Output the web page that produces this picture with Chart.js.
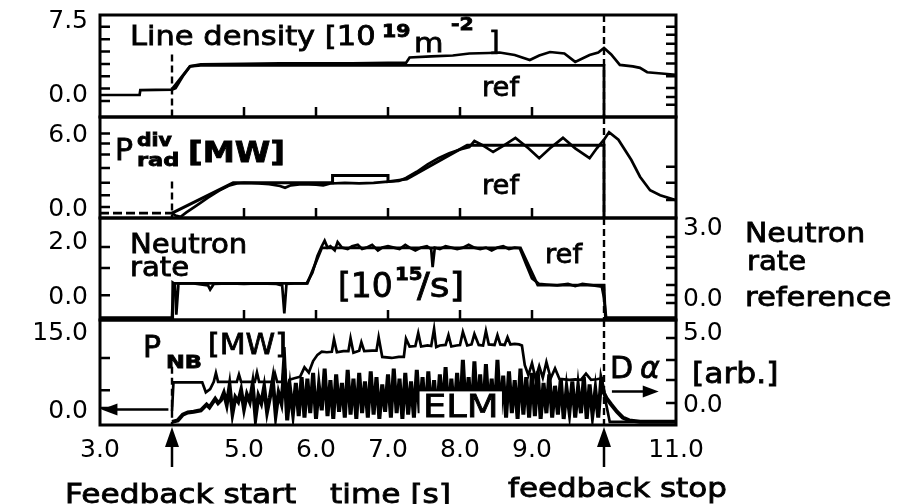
<!DOCTYPE html>
<html>
<head>
<meta charset="utf-8">
<script src="https://cdn.jsdelivr.net/npm/chart.js@4.4.1/dist/chart.umd.min.js"></script>
<style>
  html, body { margin: 0; padding: 0; background: #fff; }
  #wrap { position: relative; width: 913px; height: 504px; overflow: hidden; }
  #wrap canvas { position: absolute; left: 0; top: 0; }
</style>
</head>
<body>
<div id="wrap">
  <canvas id="density" width="913" height="504"></canvas>
  <canvas id="prad" width="913" height="504"></canvas>
  <canvas id="neutron" width="913" height="504"></canvas>
  <canvas id="pnb" width="913" height="504"></canvas>
</div>
<script>
// time axis (s)
const timeTicks = [3, 5, 6, 7, 8, 9, 11];
const panelTimeTicks = [5, 6, 7, 8, 9];

// line density [10^19 m^-2]
const densityTime = [3.00, 3.55, 3.56, 4.00, 4.05, 4.15, 4.25, 4.40, 5.00, 5.50,
  6.00, 6.50, 7.00, 7.25, 7.30, 7.60, 7.90, 8.13, 8.40, 8.55,
  8.76, 8.97, 9.10, 9.25, 9.45, 9.60, 9.80, 9.92, 10.00, 10.10,
  10.22, 10.40, 10.50, 10.60, 11.00];
const densityValue = [0.1, 0.1, 0.6, 0.65, 0.8, 2.0, 3.0, 3.2, 3.25, 3.3,
  3.3, 3.3, 3.35, 3.35, 3.9, 4.0, 4.1, 4.3, 4.35, 4.4,
  4.15, 3.65, 4.1, 4.45, 4.3, 3.45, 4.15, 4.4, 4.86, 4.2,
  3.15, 3.0, 2.85, 2.4, 2.15];
const densityRefTime = [4.00, 4.25, 4.40, 10.00, 10.00];
const densityRefValue = [0.7, 3.0, 3.1, 3.1, -2.1];
const densityTicks = [0, 7.5];
const densityMinorLeft = [7.0, 5.75, 4.5, 3.25, 2.0, 0.75, -0.5];
const densityMinorRight = [7.0, 6.2, 5.3, 4.3, 3.3, 2.0, 0.8, -0.1, -0.9];

// divertor radiated power [MW]
const pradTime = [3.00, 4.00, 4.05, 4.12, 4.20, 4.35, 4.50, 4.65, 4.80, 4.90,
  5.00, 5.20, 5.35, 5.50, 5.57, 5.65, 5.80, 6.00, 6.10, 6.20,
  6.40, 6.60, 6.80, 7.00, 7.15, 7.25, 7.40, 7.55, 7.70, 7.85,
  8.00, 8.13, 8.20, 8.30, 8.46, 8.60, 8.77, 8.95, 9.10, 9.25,
  9.43, 9.60, 9.80, 9.90, 10.00, 10.07, 10.20, 10.38, 10.50, 10.64,
  10.78, 11.00];
const pradValue = [-0.25, -0.25, -0.45, -0.55, -0.2, 0.4, 1.0, 1.55, 2.0, 2.15,
  2.2, 2.15, 2.1, 1.95, 1.8, 2.0, 2.1, 2.05, 2.0, 2.15,
  2.2, 2.15, 2.2, 2.3, 2.35, 2.6, 3.1, 3.7, 4.2, 4.6,
  4.9, 5.1, 5.6, 5.3, 4.7, 5.2, 5.85, 5.0, 4.2, 5.0,
  5.85, 5.0, 4.2, 5.0, 5.7, 6.3, 5.7, 4.05, 2.7, 1.6,
  1.2, 0.8];
const pradRefTime = [4.00, 4.85, 6.23, 6.23, 7.00, 7.00, 7.26, 8.10, 10.00, 10.00];
const pradRefValue = [-0.25, 2.2, 2.2, 2.8, 2.8, 2.3, 2.5, 5.25, 5.25, -0.6];
const pradTicks = [0, 6];
const pradMinorLeft = [6.2, 5.4, 4.5, 3.4, 2.2, 1.2, 0.25];
const pradMinorRight = [3.5, 2.2, 0.8];

// neutron rate [10^15/s] and its reference
const neutronTime = [3.00, 4.00, 4.01, 4.04, 4.06, 4.09, 4.12, 4.30, 4.50, 4.53,
  4.58, 4.80, 5.00, 5.20, 5.45, 5.53, 5.56, 5.59, 5.70, 5.87,
  5.95, 6.02, 6.08, 6.12, 6.16, 6.20, 6.26, 6.30, 6.36, 6.44,
  6.50, 6.58, 6.64, 6.70, 6.78, 6.86, 6.92, 7.00, 7.08, 7.16,
  7.24, 7.30, 7.38, 7.46, 7.54, 7.60, 7.62, 7.65, 7.72, 7.80,
  7.88, 7.96, 8.04, 8.12, 8.20, 8.28, 8.36, 8.44, 8.52, 8.60,
  8.68, 8.76, 8.83, 8.92, 9.00, 9.10, 9.20, 9.35, 9.50, 9.60,
  9.70, 9.85, 9.97, 10.00, 10.03, 10.06, 11.00];
const neutronValue = [-0.71, -0.71, 0.55, 0.5, -0.6, 0.5, 0.52, 0.52, 0.45, 0.3,
  0.5, 0.52, 0.5, 0.52, 0.5, 0.45, -0.55, 0.5, 0.52, 0.52,
  0.9, 1.5, 1.85, 2.05, 1.8, 1.85, 1.7, 2.0, 1.8, 1.75,
  1.85, 1.9, 1.75, 1.8, 1.9, 1.7, 1.8, 1.85, 1.8, 1.75,
  1.9, 1.8, 1.7, 1.8, 1.85, 1.75, 1.1, 1.8, 1.75, 1.85,
  1.8, 1.75, 1.8, 1.9, 1.8, 1.75, 1.8, 1.7, 1.8, 1.85,
  1.75, 1.8, 1.78, 1.2, 0.7, 0.5, 0.48, 0.45, 0.5, 0.42,
  0.5, 0.45, 0.4, 0.0, -0.71, -0.71, -0.71];
const neutronRefTime = [3.00, 4.00, 4.02, 5.88, 6.08, 8.84, 9.08, 10.00, 10.02, 11.00];
const neutronRefValue = [-0.76, -0.76, 0.7, 0.7, 2.2, 2.2, 0.63, 0.63, -0.76, -0.76];
const neutronTicks = [0, 2];
const neutronRefTicks = [0, 3];
const neutronMinorLeft = [1.82, 1.07, 0.1];
const neutronMinorRight = [2.66, 2.24, 1.82, 1.35, 0.63, 0.21, -0.13];

// NB power [MW]
const pnbTime = [4.00, 4.02, 4.42, 4.47, 4.53, 4.58, 4.61, 4.64, 4.90, 4.93,
  4.96, 5.15, 5.18, 5.21, 5.40, 5.43, 5.46, 5.53, 5.56, 5.59,
  5.63, 5.70, 5.78, 5.84, 5.90, 5.96, 6.02, 6.08, 6.15, 6.22,
  6.25, 6.29, 6.38, 6.45, 6.48, 6.52, 6.60, 6.63, 6.67, 6.78,
  6.84, 6.87, 6.92, 7.05, 7.15, 7.22, 7.25, 7.30, 7.38, 7.42,
  7.46, 7.55, 7.60, 7.64, 7.67, 7.72, 7.80, 7.84, 7.88, 7.95,
  8.00, 8.04, 8.10, 8.16, 8.20, 8.26, 8.32, 8.36, 8.40, 8.48,
  8.52, 8.56, 8.62, 8.66, 8.70, 8.76, 8.82, 8.86, 8.90, 8.95,
  9.00, 9.05, 9.10, 9.15, 9.20, 9.26, 9.32, 9.38, 9.45, 9.52,
  9.60, 9.68, 9.75, 9.82, 9.90, 9.97, 10.02, 10.08, 11.00];
const pnbValue = [0.0, 5.5, 5.5, 3.6, 4.2, 5.6, 7.3, 5.6, 5.6, 7.0,
  5.6, 5.6, 7.4, 5.6, 5.6, 7.2, 5.6, 5.6, 12.3, 3.2,
  6.0, 6.3, 6.6, 8.4, 7.4, 9.6, 10.8, 11.4, 11.3, 11.4,
  13.8, 11.3, 11.5, 11.5, 14.0, 11.2, 11.6, 13.2, 11.5, 11.6,
  11.6, 14.2, 10.4, 10.2, 10.4, 10.4, 13.9, 12.4, 12.5, 15.0,
  12.4, 12.6, 12.5, 15.8, 12.3, 12.6, 12.7, 14.6, 12.4, 12.6,
  12.7, 15.2, 12.6, 12.8, 14.8, 12.7, 12.6, 15.4, 12.8, 12.7,
  14.6, 12.8, 12.7, 14.2, 12.8, 12.9, 12.8, 12.6, 8.8, 6.9,
  9.2, 6.2, 8.6, 6.4, 9.4, 6.3, 8.2, 6.2, 6.1, 6.0,
  6.1, 6.0, 7.2, 6.0, 6.1, 6.3, 2.0, -2.1, -2.1];
const pnbTicks = [0, 15];
const pnbMinorLeft = [10.2, 4.0, 0.6];

// D-alpha [arb.]
const dalphaTime = [4.00, 4.08, 4.15, 4.22, 4.30, 4.40, 4.48, 4.52, 4.56, 4.60,
  4.64, 4.68, 4.72, 4.76, 4.80, 4.84, 4.88, 4.92, 4.96, 5.00,
  5.04, 5.08, 5.12, 5.16, 5.20, 5.24, 5.28, 5.32, 5.36, 5.40,
  5.44, 5.48, 5.52, 5.56, 5.60, 5.64, 5.68, 5.72, 5.76, 5.80,
  5.84, 5.88, 5.92, 5.96, 6.00, 6.04, 6.08, 6.12, 6.16, 6.20,
  6.24, 6.28, 6.32, 6.36, 6.40, 6.44, 6.48, 6.52, 6.56, 6.60,
  6.64, 6.68, 6.72, 6.76, 6.80, 6.84, 6.88, 6.92, 6.96, 7.00,
  7.04, 7.08, 7.12, 7.16, 7.20, 7.24, 7.28, 7.32, 7.36, 7.40,
  7.44, 7.48, 7.52, 7.56, 7.60, 7.64, 7.68, 7.72, 7.76, 7.80,
  7.84, 7.88, 7.92, 7.96, 8.00, 8.04, 8.08, 8.12, 8.16, 8.20,
  8.24, 8.28, 8.32, 8.36, 8.40, 8.44, 8.48, 8.52, 8.56, 8.60,
  8.64, 8.68, 8.72, 8.76, 8.80, 8.84, 8.88, 8.92, 8.96, 9.00,
  9.04, 9.08, 9.12, 9.16, 9.20, 9.24, 9.28, 9.32, 9.36, 9.40,
  9.44, 9.48, 9.52, 9.56, 9.60, 9.64, 9.68, 9.72, 9.76, 9.80,
  9.84, 9.88, 9.92, 9.96, 10.00, 10.04, 10.10, 10.18, 10.26, 10.35,
  10.50, 11.00];
const dalphaValue = [-1.1, -1.0, -0.6, -0.45, -0.4, -0.3, 0.1, -0.1, 0.2, 0.5,
  0.2, 0.4, 0.9, 0.1, 1.4, -0.5, 0.6, 0.3, 1.1, -0.2,
  0.8, 0.3, 1.5, -0.8, 0.7, 0.2, 1.3, -0.4, 0.6, 1.8,
  -0.6, 0.9, 0.2, 2.6, -1.0, 1.2, -0.5, 1.6, -0.7, 2.0,
  -0.8, 1.9, -0.5, 2.3, -0.9, 1.4, -0.3, 2.6, -0.7, 1.8,
  -0.9, 2.2, -0.4, 1.6, -0.8, 2.5, -0.6, 1.9, -0.9, 2.3,
  -0.5, 1.7, -0.8, 2.4, -0.6, 2.0, -0.9, 1.5, -0.4, 2.2,
  -0.8, 2.6, -0.5, 1.9, -0.9, 2.3, -0.6, 1.7, -0.8, 2.5,
  -0.5, 2.0, -0.9, 2.4, -0.6, 1.8, -0.8, 2.2, -0.4, 2.7,
  -0.9, 1.9, -0.6, 2.3, -0.8, 3.2, -0.5, 2.0, -0.9, 3.1,
  -0.6, 2.2, -0.8, 2.9, -0.5, 1.9, -0.9, 3.2, -0.6, 2.1,
  -0.8, 2.4, -0.5, 1.8, -0.9, 2.6, -0.6, 2.0, -0.8, 2.3,
  -0.7, 2.4, -0.9, 1.6, -0.5, 2.2, -0.8, 1.4, -0.6, 1.9,
  -0.9, 1.2, -0.4, 1.7, -0.8, 1.3, -0.5, 2.0, -0.9, 1.5,
  -0.6, 1.1, -0.8, 1.8, 0.9, 0.5, 0.1, -0.4, -0.8, -1.0,
  -1.1, -1.1];
const dalphaTicks = [0, 5];
const dalphaMinorRight = [4.72, 3.19, 1.8, 0.2];

Chart.defaults.font.family = "DejaVu Sans";
Chart.defaults.font.size = 25;
Chart.defaults.color = "#000";

function trace(ts, vs, axis, width) {
  return {
    data: ts.map((t, i) => ({ x: t, y: vs[i] })),
    yAxisID: axis,
    borderColor: "#000",
    borderWidth: width,
    pointRadius: 0,
    tension: 0,
    fill: false
  };
}

function yScale(min, max, tickVals, position, width, gap) {
  return {
    type: "linear",
    position: position,
    min: min,
    max: max,
    afterFit: (s) => { s.width = width; },
    afterBuildTicks: (s) => { s.ticks = tickVals.map((v) => ({ value: v })); },
    ticks: { padding: 0, autoSkip: false, callback: (v) => v.toFixed(1) },
    grid: { display: false, drawTicks: true, tickLength: gap },
    border: { display: false }
  };
}

function xScale(show) {
  const s = {
    type: "linear",
    min: 3,
    max: 11,
    display: show,
    afterBuildTicks: (sc) => { sc.ticks = timeTicks.map((v) => ({ value: v })); },
    ticks: { padding: 10, autoSkip: false, maxRotation: 0, callback: (v) => v.toFixed(1) },
    grid: { display: false, drawTicks: false },
    border: { display: false }
  };
  if (show) s.afterFit = (sc) => { sc.height = 79; };
  return s;
}

function drawLabel(ctx, it) {
  ctx.save();
  ctx.font = (it.style || "") + " " + (it.weight || "") + " " + it.size + 'px "DejaVu Sans"';
  ctx.textAlign = "left";
  ctx.textBaseline = "alphabetic";
  ctx.translate(it.x, it.y);
  ctx.scale(it.sx || 1, 1);
  if (it.bg) {
    const w = ctx.measureText(it.text).width;
    ctx.fillStyle = "#fff";
    ctx.fillRect(-3, -it.size * 0.8, w + 6, it.size * 0.88);
  }
  ctx.fillStyle = "#000";
  ctx.strokeStyle = "#000";
  ctx.lineWidth = 0.8;
  ctx.fillText(it.text, 0, 0);
  ctx.strokeText(it.text, 0, 0);
  ctx.restore();
}

function arrow(ctx, x1, y1, x2, y2, head, half) {
  const a = Math.atan2(y2 - y1, x2 - x1);
  ctx.beginPath();
  ctx.moveTo(x1, y1);
  ctx.lineTo(x2 - Math.cos(a) * head * 0.6, y2 - Math.sin(a) * head * 0.6);
  ctx.stroke();
  ctx.beginPath();
  ctx.moveTo(x2, y2);
  ctx.lineTo(x2 - Math.cos(a) * head - Math.sin(a) * half, y2 - Math.sin(a) * head + Math.cos(a) * half);
  ctx.lineTo(x2 - Math.cos(a) * head + Math.sin(a) * half, y2 - Math.sin(a) * head - Math.cos(a) * half);
  ctx.closePath();
  ctx.fill();
}

// dashed feedback markers under the traces; frame, inner ticks, arrows and labels on top
const markers = {
  id: "markers",
  beforeDatasetsDraw(chart, args, opts) {
    const { ctx, chartArea: a, scales } = chart;
    ctx.save();
    ctx.strokeStyle = "#000";
    ctx.lineWidth = 2.4;
    ctx.setLineDash([7, 4]);
    (opts.lines || []).forEach((m) => {
      const x = scales.x.getPixelForValue(m.t);
      const top = m.from == null ? a.top : scales.y.getPixelForValue(m.from);
      ctx.beginPath();
      ctx.moveTo(x, top);
      ctx.lineTo(x, a.bottom);
      ctx.stroke();
    });
    ctx.restore();
  },
  afterDatasetsDraw(chart, args, opts) {
    const { ctx, chartArea: a, scales } = chart;
    ctx.save();
    ctx.strokeStyle = "#000";
    ctx.fillStyle = "#000";
    ctx.lineWidth = 2.5;
    ctx.beginPath();
    (opts.left || []).forEach((v) => {
      const y = scales.y.getPixelForValue(v);
      ctx.moveTo(a.left, y); ctx.lineTo(a.left + 10, y);
    });
    const rs = scales[opts.rightAxis || "y"];
    (opts.right || []).forEach((v) => {
      const y = rs.getPixelForValue(v);
      ctx.moveTo(a.right, y); ctx.lineTo(a.right - 10, y);
    });
    (opts.bottom || []).forEach((t) => {
      const x = scales.x.getPixelForValue(t);
      ctx.moveTo(x, a.bottom); ctx.lineTo(x, a.bottom - 10);
    });
    ctx.stroke();
    ctx.lineWidth = 3;
    ctx.strokeRect(a.left, a.top, a.width, a.height);
    ctx.lineWidth = 2.5;
    (opts.arrows || []).forEach((r) => {
      if (r.vertical) {
        const x = scales.x.getPixelForValue(r.t);
        arrow(ctx, x, a.bottom + 42, x, a.bottom + 2, 20, 7);
      } else {
        const y = scales[r.axis].getPixelForValue(r.v);
        arrow(ctx, scales.x.getPixelForValue(r.from), y, scales.x.getPixelForValue(r.to), y, 16, 6);
      }
    });
    (opts.labels || []).forEach((it) => drawLabel(ctx, it));
    ctx.restore();
  }
};

function makeChart(id, datasets, scales, pad, deco) {
  return new Chart(document.getElementById(id), {
    type: "line",
    data: { datasets: datasets },
    options: {
      responsive: false,
      animation: false,
      devicePixelRatio: 1,
      events: [],
      layout: { padding: pad },
      scales: scales,
      plugins: { legend: { display: false }, tooltip: { enabled: false }, markers: deco }
    },
    plugins: [markers]
  });
}

const pradTrace = trace(pradTime, pradValue, "y", 2.7);
// the pre-feedback baseline is broken up in the scan
pradTrace.segment = { borderDash: (c) => (c.p1.parsed.x <= 4 ? [9, 4] : undefined) };

makeChart("density",
  [trace(densityRefTime, densityRefValue, "y", 2.8), trace(densityTime, densityValue, "y", 2.7)],
  { x: xScale(false), y: yScale(-2.13, 8.2, densityTicks, "left", 100, 12) },
  { left: 0, right: 237, top: 15, bottom: 387 },
  {
    lines: [{ t: 4, from: 4.2 }, { t: 10 }],
    left: densityMinorLeft, right: densityMinorRight, bottom: panelTimeTicks,
    labels: [
      { text: "Line density [10", x: 130, y: 45, size: 27, sx: 1.13 },
      { text: "19", x: 382, y: 37, size: 17, weight: "bold", sx: 1.2 },
      { text: "m", x: 414, y: 52, size: 27, sx: 1.12 },
      { text: "-2", x: 451, y: 30, size: 17, weight: "bold", sx: 1.2 },
      { text: "]", x: 489, y: 50, size: 27 },
      { text: "ref", x: 482, y: 96, size: 26, sx: 1.05 }
    ]
  });

makeChart("prad",
  [trace(pradRefTime, pradRefValue, "y", 3), pradTrace],
  { x: xScale(false), y: yScale(-0.65, 7.54, pradTicks, "left", 100, 12) },
  { left: 0, right: 237, top: 117, bottom: 286 },
  {
    lines: [{ t: 4, from: 2.3 }, { t: 10 }],
    left: pradMinorLeft, right: pradMinorRight, bottom: panelTimeTicks,
    labels: [
      { text: "P", x: 115, y: 160, size: 30 },
      { text: "div", x: 137, y: 146, size: 17, weight: "bold", sx: 1.2 },
      { text: "rad", x: 137, y: 166, size: 18, weight: "bold", sx: 1.25 },
      { text: "[MW]", x: 188, y: 162, size: 28, weight: "bold", sx: 1.15 },
      { text: "ref", x: 482, y: 194, size: 26, sx: 1.05 }
    ]
  });

makeChart("neutron",
  [trace(neutronRefTime, neutronRefValue, "yr", 2.8), trace(neutronTime, neutronValue, "y", 2.7)],
  {
    x: xScale(false),
    y: yScale(-0.79, 2.86, neutronTicks, "left", 100, 12),
    yr: yScale(-0.845, 3.46, neutronRefTicks, "right", 237, 7)
  },
  { left: 0, right: 0, top: 218, bottom: 184 },
  {
    lines: [{ t: 10 }],
    left: neutronMinorLeft, right: neutronMinorRight, rightAxis: "yr", bottom: panelTimeTicks,
    labels: [
      { text: "Neutron", x: 130, y: 253, size: 26, sx: 1.12 },
      { text: "rate", x: 130, y: 276, size: 26, sx: 1.12 },
      { text: "[10", x: 338, y: 297, size: 33 },
      { text: "15", x: 395, y: 280, size: 18, weight: "bold", sx: 1.1 },
      { text: "/s]", x: 417, y: 297, size: 33, sx: 1.15 },
      { text: "ref", x: 545, y: 263, size: 26, sx: 1.05 },
      { text: "Neutron", x: 745, y: 242, size: 26, sx: 1.15 },
      { text: "rate", x: 747, y: 270, size: 26, sx: 1.12 },
      { text: "reference", x: 745, y: 306, size: 26, sx: 1.18 }
    ]
  });

makeChart("pnb",
  [trace(dalphaTime, dalphaValue, "yr", 4), trace(pnbTime, pnbValue, "y", 2.7)],
  {
    x: xScale(true),
    y: yScale(-2.69, 17.5, pnbTicks, "left", 100, 12),
    yr: yScale(-1.32, 5.97, dalphaTicks, "right", 237, 7)
  },
  { left: 0, right: 0, top: 320, bottom: 0 },
  {
    lines: [{ t: 4, from: 8.5 }, { t: 10 }],
    left: pnbMinorLeft, right: dalphaMinorRight, rightAxis: "yr",
    arrows: [
      { vertical: true, t: 4 },
      { vertical: true, t: 10 },
      { axis: "y", v: 0.3, from: 3.95, to: 3.02 },
      { axis: "yr", v: 1.0, from: 10.11, to: 10.76 }
    ],
    labels: [
      { text: "P", x: 143, y: 357, size: 30 },
      { text: "NB", x: 166, y: 368, size: 18, weight: "bold", sx: 1.25 },
      { text: "[MW]", x: 208, y: 354, size: 28, sx: 1.07 },
      { text: "ELM", x: 423, y: 417, size: 32, sx: 1.15, bg: true },
      { text: "D", x: 610, y: 378, size: 30 },
      { text: "α", x: 640, y: 378, size: 30, style: "italic" },
      { text: "[arb.]", x: 692, y: 383, size: 28, sx: 1.12 },
      { text: "Feedback start", x: 65, y: 503, size: 26, sx: 1.2 },
      { text: "time [s]", x: 330, y: 503, size: 26, sx: 1.2 },
      { text: "feedback stop", x: 508, y: 497, size: 26, sx: 1.19 }
    ]
  });
</script>
</body>
</html>
